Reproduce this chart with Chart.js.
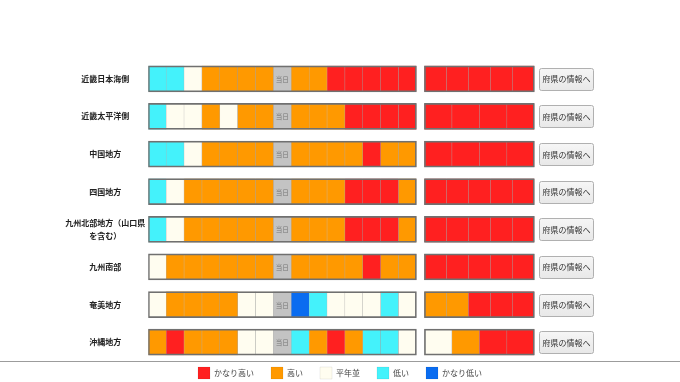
<!DOCTYPE html>
<html lang="ja">
<head>
<meta charset="utf-8">
<style>
  html, body { margin: 0; padding: 0; background: #fff; }
  #wrap { width: 680px; height: 382px; position: relative; }
</style>
<script src="https://cdn.jsdelivr.net/npm/chart.js@4.4.1/dist/chart.umd.min.js"></script>
</head>
<body>
<div id="wrap"><canvas id="myChart" width="680" height="382"></canvas></div>
<script>
// 地域（行）
var regions = ['近畿日本海側', '近畿太平洋側', '中国地方', '四国地方',
  ['九州北部地方（山口県', 'を含む）'], '九州南部', '奄美地方', '沖縄地方'];

// 階級: 2=かなり高い 1=高い 0=平年並 -1=低い -2=かなり低い, null=当日
var daily = [
  [-1, -1, 0, 1, 1, 1, 1, null, 1, 1, 2, 2, 2, 2, 2],
  [-1, 0, 0, 1, 0, 1, 1, null, 1, 1, 1, 2, 2, 2, 2],
  [-1, -1, 0, 1, 1, 1, 1, null, 1, 1, 1, 1, 2, 1, 1],
  [-1, 0, 1, 1, 1, 1, 1, null, 1, 1, 1, 2, 2, 2, 1],
  [-1, 0, 1, 1, 1, 1, 1, null, 1, 1, 1, 2, 2, 2, 1],
  [0, 1, 1, 1, 1, 1, 1, null, 1, 1, 1, 1, 2, 1, 1],
  [0, 1, 1, 1, 1, 0, 0, null, -2, -1, 0, 0, 0, -1, 0],
  [1, 2, 1, 1, 1, 0, 0, null, -1, 1, 2, 1, -1, -1, 0]
];
var weekly = [
  [2, 2, 2, 2, 2],
  [2, 2, 2, 2],
  [2, 2, 2, 2],
  [2, 2, 2, 2, 2],
  [2, 2, 2, 2, 2],
  [2, 2, 2, 2, 2],
  [1, 1, 2, 2, 2],
  [0, 1, 2, 2]
];
var classNames = ['かなり高い', '高い', '平年並', '低い', 'かなり低い'];
var todayLabel = '当日';
var buttonLabel = '府県の情報へ';

var classColors = ['#ff2020', '#ff9900', '#fffdf0', '#44f2fb', '#0a6cf0'];
var WEEK_START = 15.45, WEEK_WIDTH = 6.15, X_MAX = 29.75;
var LEGEND_PAD = 17;

Chart.defaults.font.family = '"Noto Sans CJK JP", "Noto Sans", sans-serif';

// build cells
var cellSets = classNames.map(function () { return []; });
var todayCells = [];
var frames = [];
regions.forEach(function (name, r) {
  daily[r].forEach(function (v, i) {
    var cell = { x: [i, i + 1], y: name };
    if (v === null) todayCells.push(cell); else cellSets[2 - v].push(cell);
  });
  var w = WEEK_WIDTH / weekly[r].length;
  weekly[r].forEach(function (v, i) {
    cellSets[2 - v].push({ x: [WEEK_START + i * w, WEEK_START + (i + 1) * w], y: name });
  });
  frames.push({ x: [0, daily[r].length], y: name });
  frames.push({ x: [WEEK_START, WEEK_START + WEEK_WIDTH], y: name });
});

var datasets = [{
  label: 'frame',
  data: frames,
  backgroundColor: 'rgba(0,0,0,0)',
  borderColor: '#707070',
  borderWidth: 1
}];
classNames.forEach(function (n, k) {
  datasets.push({
    label: n,
    data: cellSets[k],
    backgroundColor: classColors[k],
    borderColor: 'rgba(0,0,0,0.25)',
    borderWidth: { left: 0.5, right: 0.5, top: 0, bottom: 0 }
  });
});
datasets.push({
  label: todayLabel,
  data: todayCells,
  backgroundColor: '#c3c3c3',
  borderColor: 'rgba(0,0,0,0.2)',
  borderWidth: { left: 0.5, right: 0.5, top: 0, bottom: 0 }
});
var todayIndex = datasets.length - 1;

var extras = {
  id: 'extras',
  afterLayout: function (chart) {
    // legend boxes sit 6px below the separator line (legend clips to its box, so only move top)
    chart.legend.top -= LEGEND_PAD - 6;
  },
  afterDatasetsDraw: function (chart) {
    var ctx = chart.ctx, area = chart.chartArea;
    var xScale = chart.scales.x, yScale = chart.scales.y;
    ctx.save();
    ctx.textAlign = 'center';
    ctx.textBaseline = 'middle';

    // 当日
    ctx.font = '6.5px "Noto Sans CJK JP"';
    ctx.fillStyle = '#777';
    chart.getDatasetMeta(todayIndex).data.forEach(function (bar) {
      ctx.fillText(todayLabel, (bar.x + bar.base) / 2, bar.y + 0.5);
    });

    // buttons
    var bx = Math.round(xScale.getPixelForValue(WEEK_START + WEEK_WIDTH) + 5) + 0.5;
    regions.forEach(function (name, r) {
      var cy = yScale.getPixelForValue(r);
      var bw = 54, bh = 22, by = Math.round(cy - bh / 2) + 0.5;
      var g = ctx.createLinearGradient(0, by, 0, by + bh);
      g.addColorStop(0, '#f6f6f6');
      g.addColorStop(1, '#e8e8e8');
      ctx.beginPath();
      ctx.roundRect(bx, by, bw, bh, 2);
      ctx.fillStyle = g;
      ctx.fill();
      ctx.strokeStyle = '#b0b0b0';
      ctx.lineWidth = 1;
      ctx.stroke();
      ctx.font = '8px "Noto Sans CJK JP"';
      ctx.fillStyle = '#333';
      ctx.fillText(buttonLabel, bx + bw / 2, cy + 0.5);
    });

    // separator
    var ly = Math.round(area.bottom) + 0.5;
    ctx.strokeStyle = '#9c9c9c';
    ctx.lineWidth = 1;
    ctx.beginPath();
    ctx.moveTo(0, ly);
    ctx.lineTo(chart.width, ly);
    ctx.stroke();
    ctx.restore();
  }
};

var ctx = document.getElementById('myChart').getContext('2d');
var myChart = new Chart(ctx, {
  type: 'bar',
  data: { labels: regions, datasets: datasets },
  plugins: [extras],
  options: {
    indexAxis: 'y',
    responsive: false,
    animation: false,
    grouped: false,
    barThickness: 26,
    borderSkipped: false,
    layout: { padding: { top: 60, right: 0, left: 0, bottom: 0 } },
    plugins: {
      tooltip: { enabled: false },
      legend: {
        position: 'bottom',
        maxHeight: 21,
        labels: {
          color: '#444',
          font: { size: 8 },
          boxWidth: 12,
          boxHeight: 12,
          padding: LEGEND_PAD,
          filter: function (item) {
            return item.datasetIndex >= 1 && item.datasetIndex <= 5;
          }
        }
      }
    },
    scales: {
      x: { type: 'linear', min: 0, max: X_MAX, display: false },
      y: {
        grid: { display: false, drawTicks: false },
        border: { display: false },
        ticks: {
          crossAlign: 'center',
          padding: 3,
          color: '#222',
          font: { size: 8, weight: 'bold', lineHeight: 1.7 }
        },
        afterFit: function (scale) { scale.width = 148.3; }
      }
    }
  }
});
</script>
</body>
</html>
